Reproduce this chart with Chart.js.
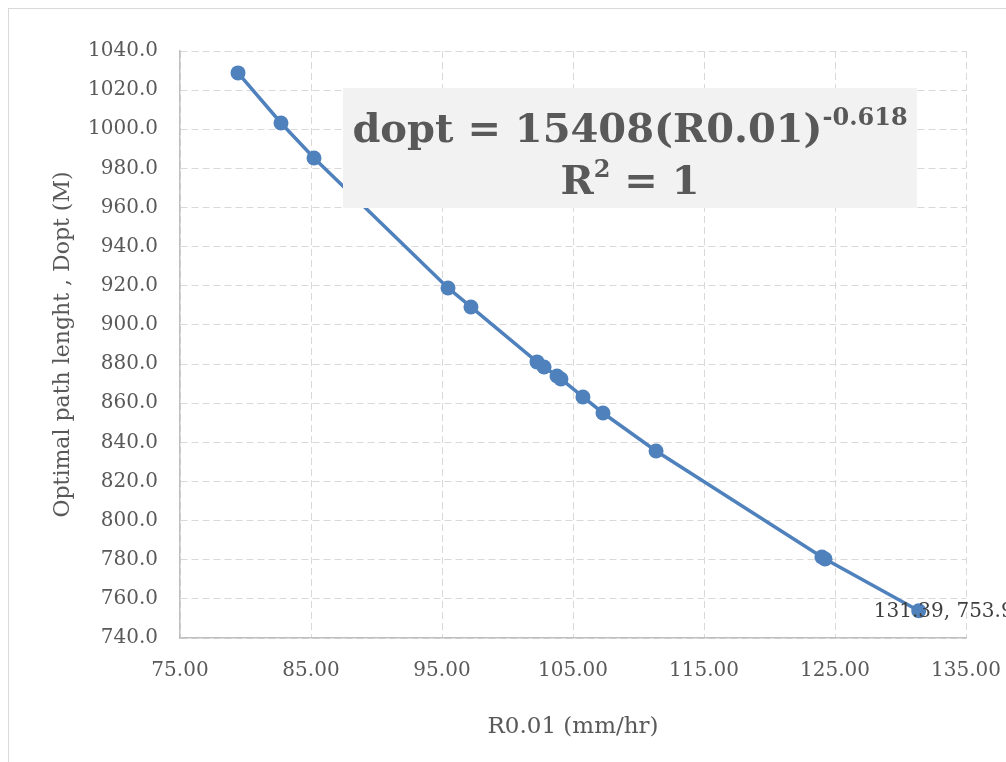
<!DOCTYPE html>
<html>
<head>
<meta charset="utf-8">
<script src="https://cdn.jsdelivr.net/npm/chart.js@4/dist/chart.umd.min.js"></script>
<style>
  html, body { margin: 0; padding: 0; background: #fff; }
  #wrap { width: 1006px; height: 762px; }
</style>
</head>
<body>
<div id="wrap"><canvas id="chart"></canvas></div>
<script>
// --- dati ---
const R001 = [79.43, 82.71, 85.23, 95.46, 97.21, 102.25, 102.79, 103.78, 104.08,
  105.76, 107.29, 111.34, 124.0, 124.24, 131.39];
const DOPT = [1028.8, 1003.2, 985.3, 918.9, 909.2, 881.1, 878.5, 873.9, 872.4,
  863.2, 855.0, 835.6, 781.4, 780.4, 753.9];
const X_TICKS = { min: 75, max: 135, step: 10 };
const Y_TICKS = { min: 740, max: 1040, step: 20 };
const EQ_MAIN = "dopt = 15408(R0.01)";
const EQ_EXP = "-0.618";
const R2_TEXT = ["R", "2", " = 1"];

const SERIF = "'DejaVu Serif', 'Liberation Serif', serif";
const BLUE = "#4F81BD";
const GREY_TXT = "#595959";

// bordo esterno del grafico
const frame = {
  id: "frame",
  beforeDraw(chart) {
    const ctx = chart.ctx;
    ctx.save();
    ctx.strokeStyle = "#D9D9D9";
    ctx.lineWidth = 1;
    ctx.strokeRect(8.5, 8.5, 1200, 1000);
    ctx.restore();
  },
};

// riquadro equazione + etichetta ultimo punto
const annot = {
  id: "annot",
  afterDatasetsDraw(chart) {
    const ctx = chart.ctx;
    ctx.save();
    // box grigio
    const bx = 343, by = 88, bw = 574, bh = 120;
    ctx.fillStyle = "#F2F2F2";
    ctx.fillRect(bx, by, bw, bh);

    const size = 40;
    const big = `bold ${size}px ${SERIF}`;
    const small = `bold ${Math.round(size * 0.6)}px ${SERIF}`;
    ctx.fillStyle = GREY_TXT;
    ctx.textBaseline = "alphabetic";
    ctx.textAlign = "left";

    // riga 1
    ctx.font = big;
    const w1 = ctx.measureText(EQ_MAIN).width;
    ctx.font = small;
    const w2 = ctx.measureText(EQ_EXP).width;
    let x = bx + bw / 2 - (w1 + w2) / 2;
    const y1 = by + 54;
    ctx.font = big;
    ctx.fillText(EQ_MAIN, x, y1);
    ctx.font = small;
    ctx.fillText(EQ_EXP, x + w1, y1 - size * 0.42);

    // riga 2
    ctx.font = big;
    const a = ctx.measureText(R2_TEXT[0]).width;
    const c = ctx.measureText(R2_TEXT[2]).width;
    ctx.font = small;
    const b = ctx.measureText(R2_TEXT[1]).width;
    x = bx + bw / 2 - (a + b + c) / 2;
    const y2 = by + 106;
    ctx.font = big;
    ctx.fillText(R2_TEXT[0], x, y2);
    ctx.font = small;
    ctx.fillText(R2_TEXT[1], x + a, y2 - size * 0.42);
    ctx.font = big;
    ctx.fillText(R2_TEXT[2], x + a + b, y2);

    // data label sull'ultimo punto
    const meta = chart.getDatasetMeta(0);
    const last = meta.data[meta.data.length - 1];
    const i = R001.length - 1;
    ctx.font = `20px ${SERIF}`;
    ctx.fillStyle = "#404040";
    ctx.textBaseline = "middle";
    ctx.fillText(`${R001[i].toFixed(2)}, ${DOPT[i].toFixed(1)}`, last.x - 45, last.y + 1);
    ctx.restore();
  },
};

new Chart(document.getElementById("chart"), {
  type: "scatter",
  data: {
    datasets: [
      {
        data: R001.map((v, i) => ({ x: v, y: DOPT[i] })),
        showLine: true,
        borderColor: BLUE,
        borderWidth: 3.5,
        backgroundColor: BLUE,
        pointBackgroundColor: BLUE,
        pointBorderWidth: 0,
        pointRadius: 7.5,
      },
    ],
  },
  options: {
    responsive: true,
    maintainAspectRatio: false,
    animation: false,
    layout: { padding: { left: 50, top: 51, right: 40, bottom: 21 } },
    plugins: { legend: { display: false }, tooltip: { enabled: false } },
    scales: {
      x: {
        type: "linear",
        min: X_TICKS.min,
        max: X_TICKS.max,
        afterFit: (s) => {
          s.height = 103;
          s.paddingLeft = 0;
          s.paddingRight = 0;
        },
        ticks: {
          stepSize: X_TICKS.step,
          color: GREY_TXT,
          font: { family: SERIF, size: 20 },
          padding: 21,
          maxRotation: 0,
          callback: (v) => v.toFixed(2),
        },
        grid: { color: "#D9D9D9", lineWidth: 1, drawTicks: false },
        border: { display: true, color: "#BFBFBF", width: 1.5, dash: [7, 4] },
        title: {
          display: true,
          text: "R0.01 (mm/hr)",
          color: GREY_TXT,
          font: { family: SERIF, size: 23 },
          padding: 0,
        },
      },
      y: {
        type: "linear",
        min: Y_TICKS.min,
        max: Y_TICKS.max,
        afterFit: (s) => {
          s.width = 130;
          s.paddingTop = 0;
          s.paddingBottom = 0;
        },
        ticks: {
          stepSize: Y_TICKS.step,
          color: GREY_TXT,
          font: { family: SERIF, size: 20 },
          padding: 22,
          callback: (v) => v.toFixed(1),
        },
        grid: { color: "#D9D9D9", lineWidth: 1, drawTicks: false },
        border: { display: true, color: "#BFBFBF", width: 1.5, dash: [7, 4] },
        title: {
          display: true,
          text: "Optimal path lenght , Dopt (M)",
          color: GREY_TXT,
          font: { family: SERIF, size: 22 },
          padding: 0,
        },
      },
    },
  },
  plugins: [frame, annot],
});
</script>
</body>
</html>
